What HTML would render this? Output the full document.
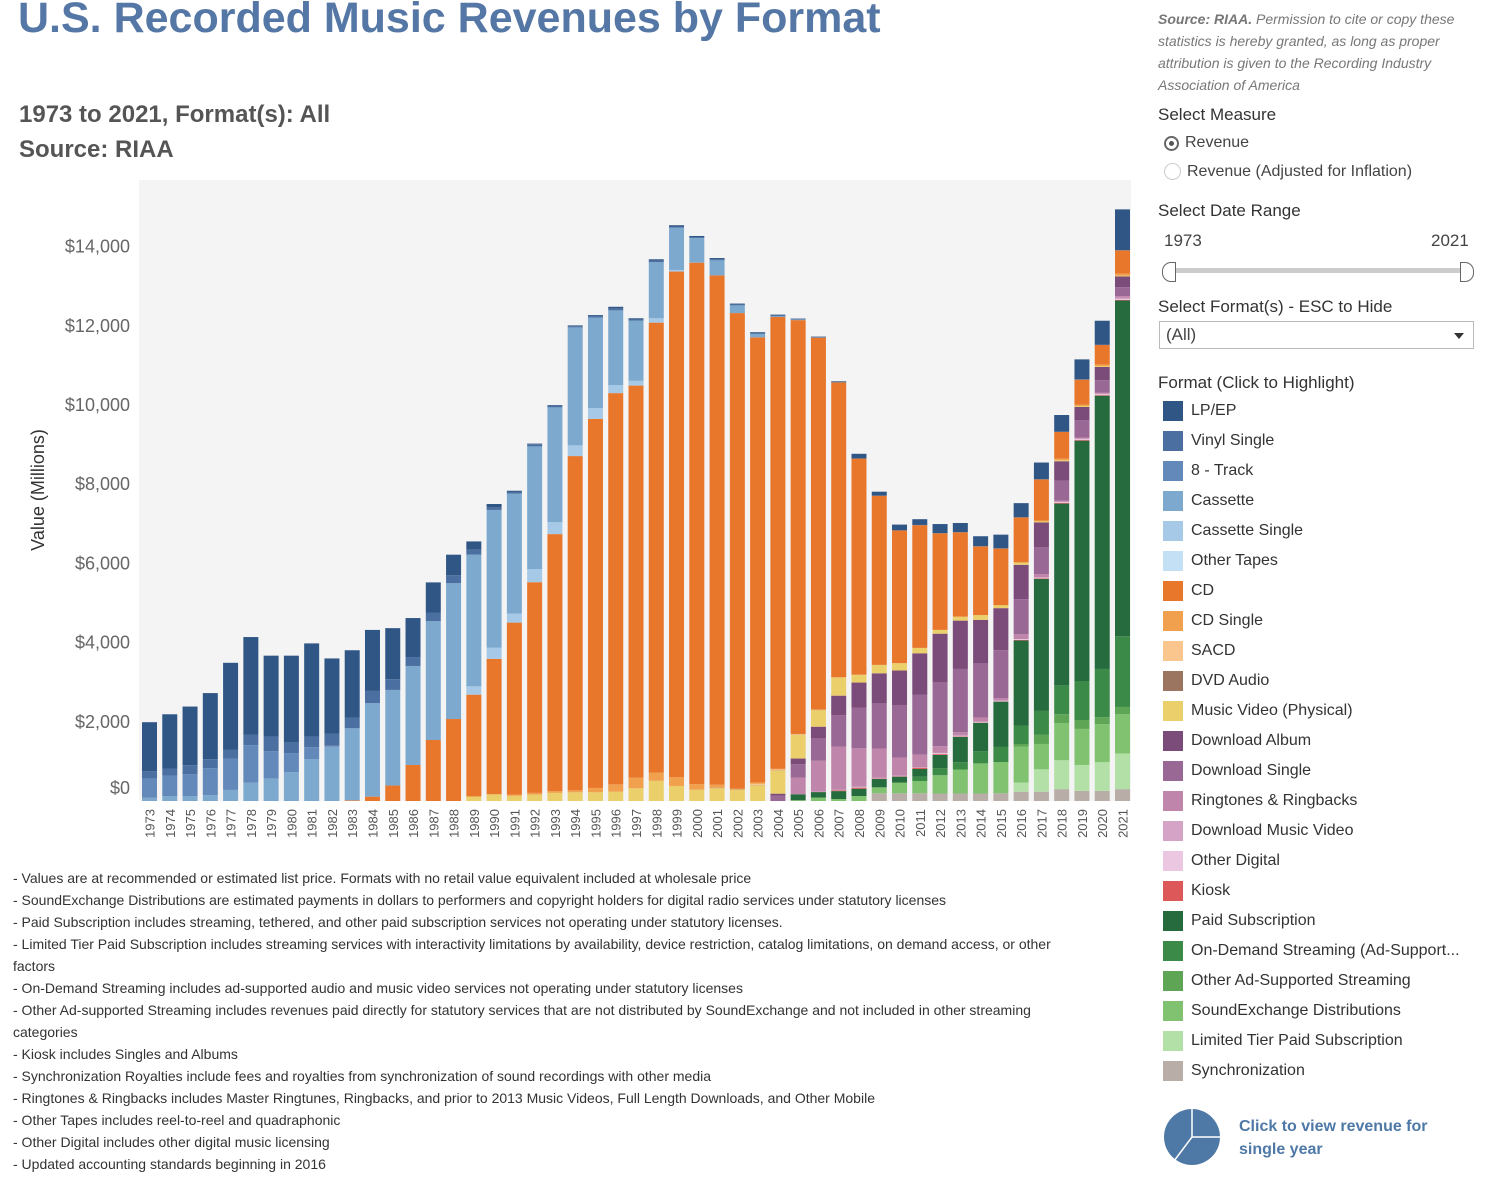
<!DOCTYPE html>
<html><head><meta charset="utf-8">
<style>
body{margin:0;width:1492px;height:1183px;background:#fff;overflow:hidden;position:relative;font-family:"Liberation Sans",sans-serif;}
.a{position:absolute;white-space:nowrap;}
.fn{position:absolute;left:13px;font-size:14px;color:#333;white-space:nowrap;}
.lg{position:absolute;left:1163px;font-size:16px;color:#333;white-space:nowrap;}
.lg span{display:inline-block;width:20px;height:20px;vertical-align:middle;margin-right:8px;}
</style></head><body>
<div class="a" style="left:18px;top:-6px;font-size:43px;font-weight:bold;color:#5577a6;">U.S. Recorded Music Revenues by Format</div>
<div class="a" style="left:19px;top:101px;font-size:24px;font-weight:bold;color:#555;">1973 to 2021, Format(s): All</div>
<div class="a" style="left:19px;top:136px;font-size:24px;font-weight:bold;color:#555;">Source: RIAA</div>

<svg id="chart" width="1492" height="1183" style="position:absolute;left:0;top:0;" xmlns="http://www.w3.org/2000/svg">
<rect x="139" y="180" width="992" height="621" fill="#f4f4f4"/>
<text transform="translate(44,490) rotate(-90)" text-anchor="middle" font-size="18" fill="#333" font-family="Liberation Sans, sans-serif">Value (Millions)</text>
<g id="bars"></g><g id="yt"></g><g id="xt"></g>
</svg>

<div class="a" style="left:1158px;top:8px;font-size:14px;font-style:italic;color:#777;line-height:22px;"><b>Source: RIAA.</b> Permission to cite or copy these<br>statistics is hereby granted, as long as proper<br>attribution is given to the Recording Industry<br>Association of America</div>
<div class="a" style="left:1158px;top:105px;font-size:17px;color:#333;">Select Measure</div>
<div class="a" style="left:1164px;top:134px;font-size:16px;color:#444;"><span style="display:inline-block;width:15px;height:15px;border:2px solid #666;border-radius:50%;vertical-align:-4px;margin-right:6px;position:relative;box-sizing:border-box;"><span style="position:absolute;left:3px;top:3px;width:5px;height:5px;border-radius:50%;background:#555;"></span></span>Revenue</div>
<div class="a" style="left:1164px;top:163px;font-size:16px;color:#444;"><span style="display:inline-block;width:17px;height:17px;border:1px solid #ccc;border-radius:50%;vertical-align:-4px;margin-right:6px;box-sizing:border-box;"></span>Revenue (Adjusted for Inflation)</div>
<div class="a" style="left:1158px;top:201px;font-size:17px;color:#333;">Select Date Range</div>
<div class="a" style="left:1164px;top:231px;font-size:17px;color:#444;">1973</div>
<div class="a" style="left:1431px;top:231px;font-size:17px;color:#444;">2021</div>
<div class="a" style="left:1172px;top:268px;width:292px;height:5px;background:#ccc;"></div>
<div class="a" style="left:1162px;top:262px;width:12px;height:18px;border:1px solid #666;border-radius:9px 0 0 9px;background:#fff;"></div>
<div class="a" style="left:1460px;top:262px;width:12px;height:18px;border:1px solid #666;border-radius:0 9px 9px 0;background:#fff;"></div>
<div class="a" style="left:1158px;top:297px;font-size:17px;color:#333;">Select Format(s) - ESC to Hide</div>
<div class="a" style="left:1159px;top:321px;width:315px;height:28px;border:1px solid #bbb;box-sizing:border-box;font-size:17px;color:#444;padding:3px 6px;">(All)<span style="position:absolute;right:9px;top:11px;border-left:5px solid transparent;border-right:5px solid transparent;border-top:6px solid #333;"></span></div>
<div class="a" style="left:1158px;top:373px;font-size:17px;color:#333;">Format (Click to Highlight)</div>
<div id="legend"></div>

<div class="a" style="left:1164px;top:1109px;">
<svg width="58" height="58"><circle cx="28" cy="28" r="28" fill="#4e79a7"/><path d="M28 28 L28 0 M28 28 L56 28 M28 28 L10 52" stroke="#fff" stroke-width="1.5" fill="none"/></svg></div>
<div class="a" style="left:1239px;top:1115px;font-size:16px;font-weight:bold;color:#4e79a7;line-height:23px;">Click to view revenue for<br>single year</div>

<div class="fn" style="top:870px;">- Values are at recommended or estimated list price. Formats with no retail value equivalent included at wholesale price</div>
<div class="fn" style="top:892px;">- SoundExchange Distributions are estimated payments in dollars to performers and copyright holders for digital radio services under statutory licenses</div>
<div class="fn" style="top:914px;">- Paid Subscription includes streaming, tethered, and other paid subscription services not operating under statutory licenses.</div>
<div class="fn" style="top:936px;">- Limited Tier Paid Subscription includes streaming services with interactivity limitations by availability, device restriction, catalog limitations, on demand access, or other</div>
<div class="fn" style="top:958px;">factors</div>
<div class="fn" style="top:980px;">- On-Demand Streaming includes ad-supported audio and music video services not operating under statutory licenses</div>
<div class="fn" style="top:1002px;">- Other Ad-supported Streaming includes revenues paid directly for statutory services that are not distributed by SoundExchange and not included in other streaming</div>
<div class="fn" style="top:1024px;">categories</div>
<div class="fn" style="top:1046px;">- Kiosk includes Singles and Albums</div>
<div class="fn" style="top:1068px;">- Synchronization Royalties include fees and royalties from synchronization of sound recordings with other media</div>
<div class="fn" style="top:1090px;">- Ringtones &amp; Ringbacks includes Master Ringtunes, Ringbacks, and prior to 2013 Music Videos, Full Length Downloads, and Other Mobile</div>
<div class="fn" style="top:1112px;">- Other Tapes includes reel-to-reel and quadraphonic</div>
<div class="fn" style="top:1134px;">- Other Digital includes other digital music licensing</div>
<div class="fn" style="top:1156px;">- Updated accounting standards beginning in 2016</div>

<script>
const years = [];
for (let y = 1973; y <= 2021; y++) years.push(y);
const yTicks = [0,2000,4000,6000,8000,10000,12000,14000];
const yTickLabels = ["$0","$2,000","$4,000","$6,000","$8,000","$10,000","$12,000","$14,000"];
const formatNames = ["LP/EP","Vinyl Single","8 - Track","Cassette","Cassette Single","Other Tapes","CD","CD Single","SACD","DVD Audio","Music Video (Physical)","Download Album","Download Single","Ringtones & Ringbacks","Download Music Video","Other Digital","Kiosk","Paid Subscription","On-Demand Streaming (Ad-Support...","Other Ad-Supported Streaming","SoundExchange Distributions","Limited Tier Paid Subscription","Synchronization"];
const formatColors = ["#2f5685","#4a6fa0","#6289b9","#7ea9cf","#a5c9e6","#c3e0f4","#e8762b","#f1a04d","#fbc58e","#9c7560","#ebcf6b","#7b4b79","#9a6895","#c085ab","#d4a3c5","#ecc7e2","#dd5858","#256b3d","#3b8a47","#5ea656","#80c270","#b3e0a6","#b8ada7"];
const lpEp = [1240,1370,1480,1670,2200,2470,2040,2190,2350,1895,1700,1540,1290,985,760,520,210,85,30,15,10,20,25,40,35,35,32,28,27,21,22,19,15,15,23,118,100,145,145,230,230,250,345,355,420,420,505,605,1027];
const vinylSingle = [180,175,225,225,225,260,370,270,270,310,270,310,270,225,220,200,125,65,40,55,50,30,35,50,25,40,28,26,31,24,22,21,14,12,4,3,3,3,5,3,4,6,6,7,7,7,7,8,8];
const eightTrack = [490,520,555,680,785,945,690,480,300,25,0,0,0,0,0,0,0,0,0,0,0,0,0,0,0,0,0,0,0,0,0,0,0,0,0,0,0,0,0,0,0,0,0,0,0,0,0,0,0];
const cassette = [80,125,125,150,280,465,570,730,1060,1370,1820,2360,2415,2500,3000,3430,3325,3480,3030,3100,2900,2980,2290,1890,1520,1415,1070,615,380,195,85,20,10,1,0,0,0,0,0,0,0,0,0,0,0,0,0,0,0];
const cassetteSingle = [0,0,0,0,0,0,0,0,0,0,0,0,0,0,0,0,210,280,230,330,300,270,270,200,120,110,40,4,0,0,0,0,0,0,0,0,0,0,0,0,0,0,0,0,0,0,0,0,0];
const otherTapes = [0,0,0,0,0,0,0,0,0,0,0,0,0,0,0,0,0,0,0,0,0,0,0,0,0,0,0,0,0,0,0,0,0,0,0,0,0,0,0,0,0,0,0,0,0,0,0,0,0];
const cd = [0,0,0,0,0,0,0,0,0,0,17,110,390,910,1540,2070,2570,3420,4340,5320,6490,8440,9320,9880,9900,11360,12770,13170,12860,12010,11240,11410,10450,9390,7440,5456,4270,3350,3100,2440,2130,1735,1430,1135,1035,675,630,490,590];
const cdSingle = [0,0,0,0,0,0,0,0,0,0,0,0,0,0,0,0,0,0,35,45,45,50,110,185,270,210,220,140,80,20,36,15,10,7,12,3,3,2,1,1,1,0,0,0,25,40,35,40,50];
const sacd = [0,0,0,0,0,0,0,0,0,0,0,0,0,0,0,0,0,0,0,0,0,0,0,0,0,0,0,0,0,0,25,16,8,4,3,1,0,0,0,0,0,0,0,0,0,0,0,0,0];
const dvdAudio = [0,0,0,0,0,0,0,0,0,0,0,0,0,0,0,0,0,0,0,0,0,0,0,0,0,0,0,0,8,6,8,6,3,2,1,1,0,0,0,0,0,0,0,0,0,0,0,0,0];
const musicVideo = [0,0,0,0,0,0,0,0,0,0,0,0,0,0,0,0,115,170,130,160,205,220,220,235,320,510,380,285,325,285,400,590,600,420,455,195,210,185,135,95,100,120,75,60,25,25,25,25,20];
const downloadAlbum = [0,0,0,0,0,0,0,0,0,0,0,0,0,0,0,0,0,0,0,0,0,0,0,0,0,0,0,0,0,0,0,45,140,295,490,630,760,870,1050,1220,1220,1100,1060,870,630,490,330,335,270];
const downloadSingle = [0,0,0,0,0,0,0,0,0,0,0,0,0,0,0,0,0,0,0,0,0,0,0,0,0,0,0,0,0,0,0,140,340,565,800,1030,1140,1330,1510,1620,1600,1365,1210,885,675,505,440,310,225];
const ringtones = [0,0,0,0,0,0,0,0,0,0,0,0,0,0,0,0,0,0,0,0,0,0,0,0,0,0,0,0,0,0,0,0,420,775,1080,970,740,455,320,170,85,110,65,120,85,30,30,30,45];
const downloadVideo = [0,0,0,0,0,0,0,0,0,0,0,0,0,0,0,0,0,0,0,0,0,0,0,0,0,0,0,0,0,0,0,0,2,14,20,26,20,15,10,10,0,0,0,0,0,10,15,15,30];
const otherDigital = [0,0,0,0,0,0,0,0,0,0,0,0,0,0,0,0,0,0,0,0,0,0,0,0,0,0,0,0,0,0,0,0,0,0,0,0,0,0,0,20,20,20,20,20,20,20,20,20,20];
const kiosk = [0,0,0,0,0,0,0,0,0,0,0,0,0,0,0,0,0,0,0,0,0,0,0,0,0,0,0,0,0,0,0,0,0,2,20,25,10,10,30,20,10,5,5,15,15,15,15,15,15];
const paidSub = [0,0,0,0,0,0,0,0,0,0,0,0,0,0,0,0,0,0,0,0,0,0,0,0,0,0,0,0,0,0,0,0,150,140,200,185,210,150,195,340,640,715,1145,2150,3335,4590,6070,6900,8480];
const onDemand = [0,0,0,0,0,0,0,0,0,0,0,0,0,0,0,0,0,0,0,0,0,0,0,0,0,0,0,0,0,0,0,0,0,0,0,0,0,0,110,175,185,310,380,465,605,730,985,1220,1785];
const otherAdSupported = [0,0,0,0,0,0,0,0,0,0,0,0,0,0,0,0,0,0,0,0,0,0,0,0,0,0,0,0,0,0,0,0,0,0,0,0,0,0,0,0,0,0,0,65,230,220,225,175,185];
const soundExchange = [0,0,0,0,0,0,0,0,0,0,0,0,0,0,0,0,0,0,0,0,0,0,0,0,0,0,0,0,0,0,0,0,20,85,50,125,150,270,310,460,605,760,790,910,640,940,910,960,990];
const limitedTier = [0,0,0,0,0,0,0,0,0,0,0,0,0,0,0,0,0,0,0,0,0,0,0,0,0,0,0,0,0,0,0,0,0,0,0,0,0,0,0,0,0,0,0,230,565,730,655,725,900];
const synchronization = [0,0,0,0,0,0,0,0,0,0,0,0,0,0,0,0,0,0,0,0,0,0,0,0,0,0,0,0,0,0,0,0,0,0,0,0,195,195,195,190,190,190,195,235,235,300,255,255,300];

const series = [lpEp,vinylSingle,eightTrack,cassette,cassetteSingle,otherTapes,cd,cdSingle,sacd,dvdAudio,musicVideo,downloadAlbum,downloadSingle,ringtones,downloadVideo,otherDigital,kiosk,paidSub,onDemand,otherAdSupported,soundExchange,limitedTier,synchronization];

const NS = "http://www.w3.org/2000/svg";
const baseY = 801, pxPerUnit = 79.2/2000;
function yScale(v){ return baseY - v*pxPerUnit; }
function xScale(i){ return 149.5 + i*(1122.5-149.5)/(years.length-1); }
const barW = 15;

const bars = document.getElementById('bars');
years.forEach((yr,i)=>{
  let acc = 0;
  for (let s = series.length-1; s >= 0; s--) {
    const v = series[s][i];
    if (!v) continue;
    const r = document.createElementNS(NS,'rect');
    r.setAttribute('x', xScale(i)-barW/2);
    r.setAttribute('y', yScale(acc+v));
    r.setAttribute('width', barW);
    r.setAttribute('height', v*pxPerUnit);
    r.setAttribute('fill', formatColors[s]);
    
    
    bars.appendChild(r);
    acc += v;
  }
});

const yt = document.getElementById('yt');
yTicks.forEach((t,k)=>{
  const tx = document.createElementNS(NS,'text');
  tx.setAttribute('x', 130);
  tx.setAttribute('y', (t===0 ? yScale(t)-13 : yScale(t)) + 6);
  tx.setAttribute('text-anchor','end');
  tx.setAttribute('font-size','18');
  tx.setAttribute('fill','#666');
  tx.setAttribute('font-family','Liberation Sans, sans-serif');
  tx.textContent = yTickLabels[k];
  
  
  yt.appendChild(tx);
});

const xt = document.getElementById('xt');
years.forEach((yr,i)=>{
  const tx = document.createElementNS(NS,'text');
  tx.setAttribute('transform','translate('+(xScale(i)+5)+',809) rotate(-90)');
  tx.setAttribute('text-anchor','end');
  tx.setAttribute('font-size','13');
  tx.setAttribute('fill','#555');
  tx.setAttribute('font-family','Liberation Sans, sans-serif');
  tx.textContent = yr;
  
  
  xt.appendChild(tx);
});

const lg = document.getElementById('legend');
formatNames.forEach((n,k)=>{
  const d = document.createElement('div');
  d.className = 'lg';
  d.style.top = (401 + k*30) + 'px';
  const sw = document.createElement('span');
  sw.style.background = formatColors[k];
  d.appendChild(sw);
  d.appendChild(document.createTextNode(n));
  
  
  lg.appendChild(d);
});
</script>
</body></html>
